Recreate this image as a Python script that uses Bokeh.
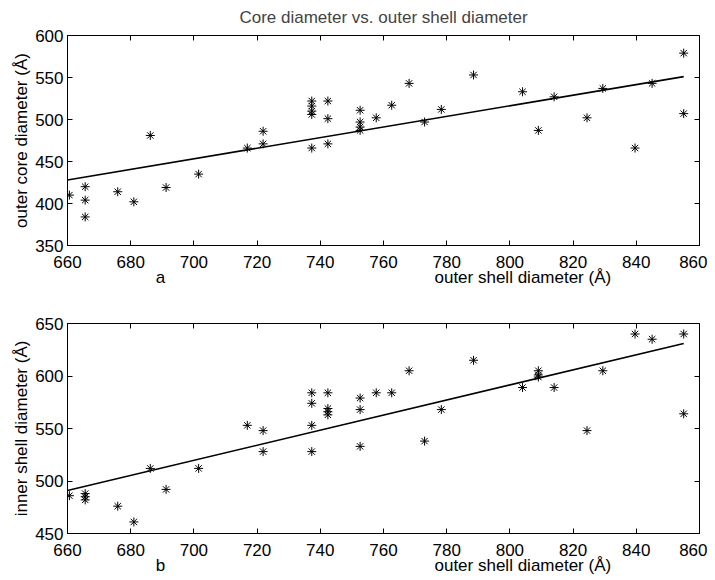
from bokeh.plotting import figure
from bokeh.models import LinearAxis, SingleIntervalTicker, Range1d
from bokeh.layouts import column
from bokeh.embed import file_html
from bokeh.resources import INLINE

# ---- data ----
top_x = [660.6, 665.6, 665.6, 665.6, 675.9, 681.0, 686.2, 691.2, 701.5, 716.9,
         721.9, 721.9, 737.3, 737.3, 737.3, 737.3, 737.3, 742.4, 742.4, 742.4,
         752.6, 752.6, 752.6, 752.6, 757.7, 762.6, 768.1, 773.0, 778.3, 788.5,
         804.0, 809.0, 814.0, 824.4, 829.4, 839.6, 845.0, 855.0, 855.0]
top_y = [410, 420, 404, 384, 414, 402, 481, 419, 435, 466,
         486, 471, 522, 516, 510, 506, 466, 522, 501, 471,
         511, 497, 491, 487, 502, 517, 543, 497, 512, 553,
         533, 487, 527, 502, 537, 466, 543, 579, 507]
top_fit_x = [660.0, 855.0]
top_fit_y = [428.0, 551.0]

bot_x = [660.6, 665.6, 665.6, 665.6, 675.9, 681.0, 686.2, 691.2, 701.5, 716.9,
         721.9, 721.9, 737.3, 737.3, 737.3, 737.3, 742.4, 742.4, 742.4, 742.4,
         752.6, 752.6, 752.6, 757.7, 762.6, 768.1, 773.0, 778.3, 788.5, 804.0,
         809.0, 809.0, 809.0, 814.0, 824.4, 829.4, 839.6, 845.0, 855.0, 855.0]
bot_y = [486, 488, 485, 482, 476, 461, 512, 492, 512, 553,
         548, 528, 584, 574, 553, 528, 584, 569, 566, 563,
         579, 568, 533, 584, 584, 605, 538, 568, 615, 589,
         605, 601, 599, 589, 548, 605, 640, 635, 640, 564]
bot_fit_x = [660.0, 855.0]
bot_fit_y = [491.0, 631.0]

title_text = "Core diameter vs. outer shell diameter"
x_label = "outer shell diameter (\u00c5)"
top_ylabel = "outer core diameter (\u00c5)"
bot_ylabel = "inner shell diameter (\u00c5)"
sub_a = "a"
sub_b = "b"

FONT = "Liberation Sans"
FS = "17px"
GAP = "\u00a0" * 57


def style_axis(ax, show_labels=True):
    ax.major_tick_in = 5
    ax.major_tick_out = 0
    ax.minor_tick_line_color = None
    ax.axis_line_color = "black"
    ax.major_tick_line_color = "black"
    ax.major_label_text_font = FONT
    if show_labels:
        ax.major_label_text_font_size = FS
        ax.major_label_text_color = "black"
    else:
        ax.major_label_text_font_size = "1px"
        ax.major_label_text_color = None
    ax.major_label_standoff = 0
    ax.axis_label_text_font = FONT
    ax.axis_label_text_font_size = FS
    ax.axis_label_text_font_style = "normal"
    ax.axis_label_text_color = "black"


def make(xs, ys, fx, fy, yr, ylabel, sub, top_border, bottom_border, title=None):
    p = figure(frame_width=632, frame_height=210,
               x_range=Range1d(660, 860), y_range=Range1d(*yr),
               output_backend="svg", toolbar_location=None,
               min_border_left=67, min_border_right=8,
               min_border_top=top_border, min_border_bottom=bottom_border)
    p.grid.visible = False
    p.outline_line_color = "black"
    p.outline_line_width = 1
    p.background_fill_color = "white"
    p.border_fill_color = "white"
    p.xaxis.ticker = SingleIntervalTicker(interval=20)
    p.yaxis.ticker = SingleIntervalTicker(interval=50)
    style_axis(p.xaxis[0])
    style_axis(p.yaxis[0])
    p.xaxis.major_label_standoff = 6
    p.yaxis.axis_label = ylabel
    p.yaxis.axis_label_standoff = 1
    p.xaxis.axis_label = sub + GAP + x_label
    p.xaxis.axis_label_standoff = -3
    top_ax = LinearAxis(ticker=SingleIntervalTicker(interval=20))
    style_axis(top_ax, False)
    right_ax = LinearAxis(ticker=SingleIntervalTicker(interval=50))
    style_axis(right_ax, False)
    p.add_layout(top_ax, "above")
    p.add_layout(right_ax, "right")

    if title:
        p.title.text = title
        p.title.align = "center"
        p.title.text_font = FONT
        p.title.text_font_size = FS
        p.title.text_font_style = "normal"
        p.title.standoff = 9

    p.line(fx, fy, line_color="black", line_width=1.6)
    p.scatter(xs, ys, marker="asterisk", size=9, line_color="black", line_width=1)
    return p


p1 = make(top_x, top_y, top_fit_x, top_fit_y, (350, 600), top_ylabel, sub_a, 35, 50,
          title=title_text)
p2 = make(bot_x, bot_y, bot_fit_x, bot_fit_y, (450, 650), bot_ylabel, sub_b, 28, 45)

layout = column(p1, p2, spacing=0)
open("out.html", "w").write(file_html(layout, INLINE))
